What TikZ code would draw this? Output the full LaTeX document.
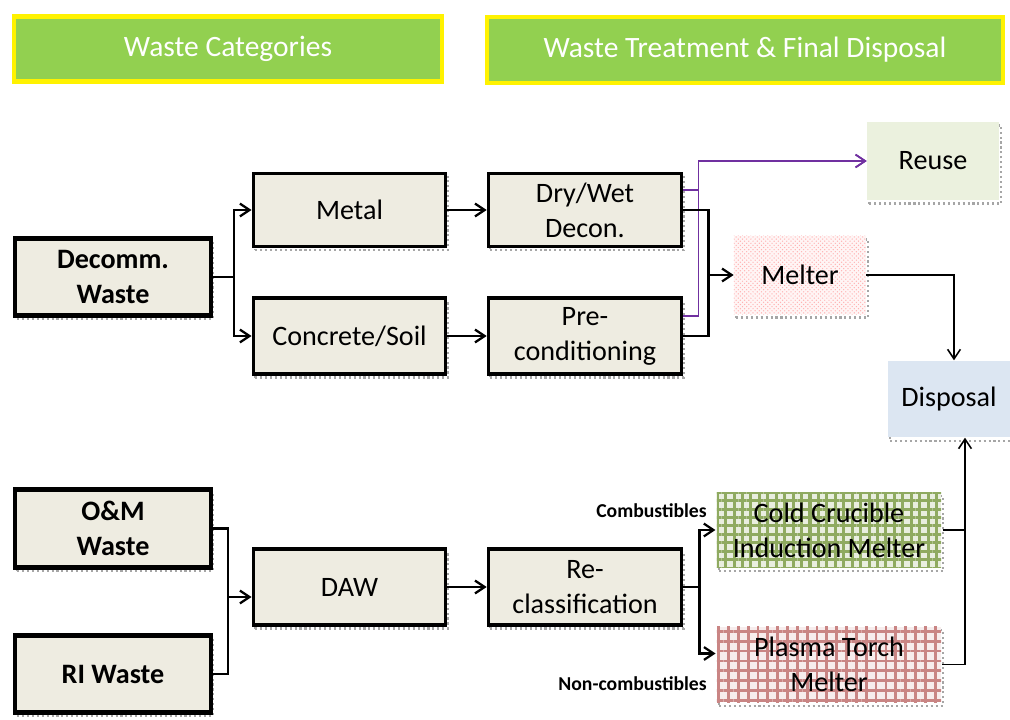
\documentclass[tikz,border=0pt]{standalone}
\usepackage{fontspec}
\setmainfont{Carlito}
\usepackage{xcolor}
\usepackage{tikz}
\usetikzlibrary{arrows.meta,positioning,calc,patterns,patterns.meta}
\definecolor{hdrgreen}{HTML}{92D050}
\definecolor{boxfill}{HTML}{EEECE1}
\definecolor{reusefill}{HTML}{EBF1DE}
\definecolor{dispfill}{HTML}{DCE6F2}
\definecolor{purp}{HTML}{7030A0}
\definecolor{olivegrn}{HTML}{8FAA60}
\definecolor{rosered}{HTML}{C98584}
\tikzset{
  shade/.style={preaction={draw=black!35, dotted, line width=1.5pt, transform canvas={shift={(1.5pt,-2.5pt)}}}},
  hdr/.style={draw=yellow, line width=3pt, fill=hdrgreen, text=white, align=center,
              font=\fontsize{21}{25}\selectfont, inner sep=0pt},
  src/.style={shade, draw=black, line width=3pt, fill=boxfill, align=center,
              font=\fontsize{20}{25}\selectfont\bfseries, inner sep=0pt},
  blk/.style={shade, draw=black, line width=2.2pt, fill=boxfill, align=center,
              font=\fontsize{20}{25}\selectfont, inner sep=0pt},
  dest/.style={shade, align=center, font=\fontsize{20}{25}\selectfont, inner sep=0pt},
  lab/.style={font=\fontsize{14}{16}\selectfont\bfseries, inner sep=0pt, anchor=east},
  sig/.style={-{Straight Barb[length=2.4mm,width=3.2mm]}, line width=1.6pt},
  wire/.style={line width=1.6pt},
  thinsig/.style={-{Straight Barb[length=2.4mm,width=3.2mm]}, line width=1.1pt},
  thinwire/.style={line width=1.1pt},
  reusesig/.style={-{Straight Barb[length=2.4mm,width=3.2mm]}, line width=1.2pt, draw=purp},
}
\begin{document}
\begin{tikzpicture}[x=0.025cm, y=-0.025cm]
  \useasboundingbox (0,0) rectangle (1010,720);
  % headers
  \node[hdr, minimum width=10.7cm, minimum height=1.62cm] (hcat) at (228,49) {Waste Categories};
  \node[hdr, minimum width=12.9cm, minimum height=1.65cm] (htreat) at (745,50) {Waste Treatment \& Final Disposal};
  % decommissioning branch
  \node[src, minimum width=4.9cm, minimum height=1.92cm] (decomm) at (113,277) {Decomm.\\ Waste};
  \node[blk, minimum width=4.82cm, minimum height=1.84cm] (metal) at (349.5,210) {Metal};
  \node[blk, minimum width=4.82cm, minimum height=1.9cm] (concrete) at (349.5,336) {Concrete/Soil};
  \node[blk, minimum width=4.84cm, minimum height=1.84cm] (decon) at (585,210) {Dry/Wet\\ Decon.};
  \node[blk, minimum width=4.84cm, minimum height=1.9cm] (precond) at (585,336) {Pre-\\ conditioning};
  \node[dest, fill=reusefill, minimum width=3.3cm, minimum height=1.95cm] (reuse) at (933,161) {Reuse};
  \node[dest, preaction={fill=red!4}, pattern=crosshatch dots, pattern color=red!30,
        minimum width=3.3cm, minimum height=1.95cm] (melter) at (800,275) {Melter};
  \node[dest, fill=dispfill, minimum width=3.05cm, minimum height=1.92cm] (disposal) at (949,399) {Disposal};
  % operation branch
  \node[src, minimum width=4.9cm, minimum height=1.95cm] (om) at (113,528.5) {O\&M\\ Waste};
  \node[src, minimum width=4.9cm, minimum height=1.92cm] (ri) at (113,674) {RI Waste};
  \node[blk, minimum width=4.82cm, minimum height=1.9cm] (daw) at (349.5,587) {DAW};
  \node[blk, minimum width=4.84cm, minimum height=1.9cm] (reclass) at (585,587) {Re-\\ classification};
  \node[dest, preaction={fill=olivegrn!20},
        preaction={pattern={Lines[angle=0,distance=6pt,line width=2.2pt]}, pattern color=olivegrn},
        pattern={Lines[angle=90,distance=6pt,line width=2.2pt]}, pattern color=olivegrn,
        minimum width=5.6cm, minimum height=1.88cm] (ccim) at (829,530) {Cold Crucible\\ Induction Melter};
  \node[dest, preaction={fill=rosered!15},
        preaction={pattern={Lines[angle=0,distance=7pt,line width=2pt]}, pattern color=rosered},
        pattern={Lines[angle=90,distance=7pt,line width=2pt]}, pattern color=rosered,
        minimum width=5.6cm, minimum height=1.88cm] (ptm) at (829,664.5) {Plasma Torch\\ Melter};
  \node[lab] (comb) at (707,511) {Combustibles};
  \node[lab] (noncomb) at (707,684) {Non-combustibles};
  % connectors
  \draw[sig] (decomm.east) -- ++(21,0) |- (metal.west);
  \draw[sig] (decomm.east) -- ++(21,0) |- (concrete.west);
  \draw[sig] (metal) -- (decon);
  \draw[sig] (concrete) -- (precond);
  \draw[reusesig] ($(decon.east)+(0,-20)$) -- ++(15,0) |- (reuse.west);
  \draw[reusesig] ($(precond.east)+(0,-20)$) -- ++(15,0) |- (reuse.west);
  \draw[wire] (decon.east) -- ++(25,0) coordinate (mj) -- ($(precond.east)+(25,0)$) -- (precond.east);
  \draw[sig] (mj |- melter.west) -- (melter.west);
  \draw[thinsig] (melter.east) -| ($(disposal.north)+(5,0)$);
  \draw[wire] (om.east) -- ++(15,0) coordinate (dj) -- (dj |- ri.east) -- (ri.east);
  \draw[sig] ($(dj |- daw.west)+(0,10)$) -- ($(daw.west)+(0,10)$);
  \draw[sig] (daw) -- (reclass);
  \draw[sig] (reclass.east) -- ++(16,0) |- (ccim.west);
  \draw[sig] (reclass.east) -- ++(16,0) |- ($(ptm.west)+(0,-11)$);
  \coordinate (dbot) at ($(disposal.south)+(16,0)$);
  \draw[thinwire] (ccim.east) -- (ccim.east -| dbot);
  \draw[thinsig] (ptm.east) -| (dbot);
\end{tikzpicture}
\end{document}
